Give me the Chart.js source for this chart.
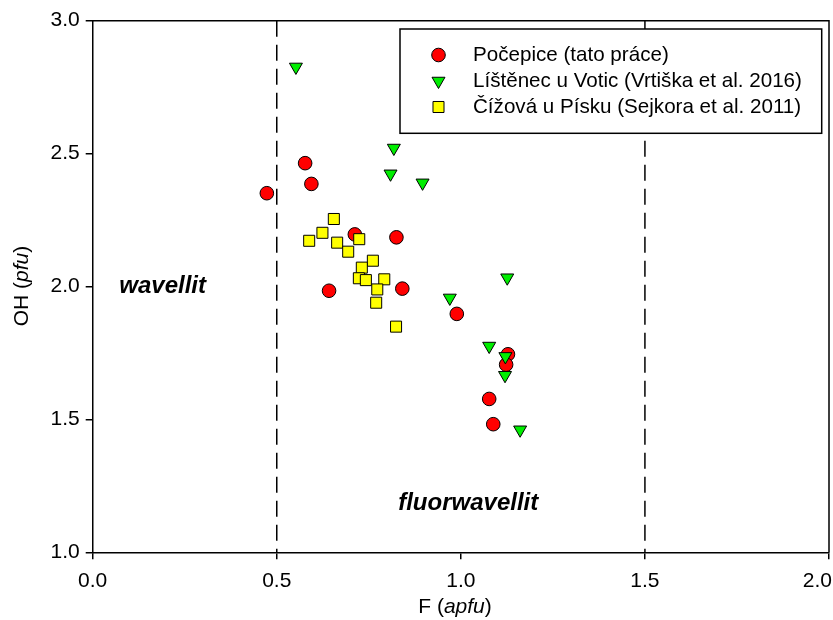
<!DOCTYPE html>
<html>
<head>
<meta charset="utf-8">
<script src="https://cdn.jsdelivr.net/npm/chart.js@4.4.0/dist/chart.umd.min.js"></script>
<style>
html, body { margin: 0; padding: 0; background: #fff; }
</style>
</head>
<body>
<canvas id="wavellitChart" width="833" height="620"></canvas>
<script>
// Počepice (tato práce)
const pocepiceF  = [0.473, 0.577, 0.594, 0.712, 0.825, 0.642, 0.841, 0.989, 1.128, 1.123, 1.077, 1.088];
const pocepiceOH = [2.351, 2.464, 2.386, 2.196, 2.185, 1.984, 1.992, 1.897, 1.745, 1.706, 1.577, 1.482];

// Líštěnec u Votic (Vrtiška et al. 2016)
const listenecF  = [0.552, 0.818, 0.809, 0.896, 1.126, 0.970, 1.077, 1.121, 1.120, 1.161];
const listenecOH = [2.826, 2.521, 2.424, 2.390, 2.033, 1.957, 1.776, 1.737, 1.666, 1.461];

// Čížová u Písku (Sejkora et al. 2011)
const cizovaF  = [0.655, 0.624, 0.588, 0.664, 0.724, 0.694, 0.761, 0.731, 0.723, 0.742, 0.792, 0.773, 0.770, 0.824];
const cizovaOH = [2.254, 2.202, 2.172, 2.165, 2.178, 2.131, 2.097, 2.071, 2.031, 2.024, 2.027, 1.989, 1.939, 1.849];

const seriesLabels = ['Počepice (tato práce)', 'Líštěnec u Votic (Vrtiška et al. 2016)', 'Čížová u Písku (Sejkora et al. 2011)'];
const boundaryF = [0.5, 1.5];
const xTicks = [0.0, 0.5, 1.0, 1.5, 2.0];
const yTicks = [1.0, 1.5, 2.0, 2.5, 3.0];

const FONT = '"Liberation Sans", Arial, sans-serif';
const TICK_SIZE = 21;
const X_LABEL_LINE = 2.06;   // pushes x labels down without adding side padding

function toPoints(xs, ys) {
    return xs.map((x, i) => ({ x: x, y: ys[i] }));
}

function drawMarker(ctx, style, x, y) {
    ctx.save();
    ctx.lineWidth = 1;
    ctx.strokeStyle = '#000';
    ctx.beginPath();
    if (style.shape === 'circle') {
        ctx.arc(x, y, style.radius, 0, Math.PI * 2);
    } else if (style.shape === 'triangleDown') {
        const r = style.radius;
        ctx.moveTo(x, y + r);
        ctx.lineTo(x - r * Math.sin(Math.PI / 3), y - r / 2);
        ctx.lineTo(x + r * Math.sin(Math.PI / 3), y - r / 2);
        ctx.closePath();
    } else {
        const s = style.radius * Math.SQRT1_2;
        ctx.rect(x - s, y - s, 2 * s, 2 * s);
    }
    ctx.fillStyle = style.color;
    ctx.fill();
    ctx.stroke();
    ctx.restore();
}

const markerStyles = [
    { shape: 'circle', radius: 6.8, color: '#ff0000' },
    { shape: 'triangleDown', radius: 7.5, color: '#00ee00' },
    { shape: 'rect', radius: 7.8, color: '#ffff00' }
];

// frame, axis titles, field labels and boxed legend
const decorPlugin = {
    id: 'decor',
    afterDraw(chart) {
        const ctx = chart.ctx;
        const area = chart.chartArea;
        const xs = chart.scales.x;
        const ys = chart.scales.y;

        ctx.save();
        ctx.strokeStyle = '#000';
        ctx.lineWidth = 1.5;
        ctx.beginPath();
        ctx.moveTo(area.left, area.top);
        ctx.lineTo(area.right, area.top);
        ctx.lineTo(area.right, area.bottom);
        ctx.stroke();

        // last x tick label sits inside the canvas edge
        ctx.fillStyle = '#000';
        ctx.font = TICK_SIZE + 'px ' + FONT;
        ctx.textAlign = 'right';
        ctx.textBaseline = 'middle';
        ctx.fillText(xTicks[xTicks.length - 1].toFixed(1), 832, xs.top + 7 + TICK_SIZE * X_LABEL_LINE / 2);

        // field names
        ctx.textAlign = 'center';
        ctx.font = 'italic bold 24px ' + FONT;
        ctx.fillText('wavellit', xs.getPixelForValue(0.19), ys.getPixelForValue(2.0));
        ctx.fillText('fluorwavellit', xs.getPixelForValue(1.02), ys.getPixelForValue(1.185));

        // axis titles with italic units
        function mixed(parts, cx, cy, rotate) {
            ctx.save();
            ctx.translate(cx, cy);
            if (rotate) ctx.rotate(-Math.PI / 2);
            let total = 0;
            parts.forEach(p => { ctx.font = p[1] + '21px ' + FONT; total += ctx.measureText(p[0]).width; });
            let pos = -total / 2;
            ctx.textAlign = 'left';
            parts.forEach(p => {
                ctx.font = p[1] + '21px ' + FONT;
                ctx.fillText(p[0], pos, 0);
                pos += ctx.measureText(p[0]).width;
            });
            ctx.restore();
        }
        mixed([['F (', ''], ['apfu', 'italic '], [')', '']], 455, 607, false);
        mixed([['OH (', ''], ['pfu', 'italic '], [')', '']], 22, 286, true);

        // legend box
        const box = { left: 400, top: 29, right: 821.7, bottom: 133.3 };
        ctx.fillStyle = '#fff';
        ctx.fillRect(box.left, box.top, box.right - box.left, box.bottom - box.top);
        ctx.strokeRect(box.left, box.top, box.right - box.left, box.bottom - box.top);
        ctx.font = '20.6px ' + FONT;
        ctx.textAlign = 'left';
        seriesLabels.forEach((label, i) => {
            const rowY = 55 + i * 26;
            drawMarker(ctx, markerStyles[i], 438.5, rowY);
            ctx.fillStyle = '#000';
            ctx.fillText(label, 473, rowY);
        });
        ctx.restore();
    }
};

new Chart(document.getElementById('wavellitChart'), {
    type: 'scatter',
    data: {
        datasets: [
            {
                label: seriesLabels[0],
                data: toPoints(pocepiceF, pocepiceOH),
                pointStyle: 'circle',
                pointRadius: markerStyles[0].radius,
                pointHoverRadius: markerStyles[0].radius,
                backgroundColor: markerStyles[0].color,
                borderColor: '#000',
                borderWidth: 1,
                order: 3
            },
            {
                label: seriesLabels[1],
                data: toPoints(listenecF, listenecOH),
                pointStyle: 'triangle',
                pointRotation: 180,
                pointRadius: markerStyles[1].radius,
                pointHoverRadius: markerStyles[1].radius,
                backgroundColor: markerStyles[1].color,
                borderColor: '#000',
                borderWidth: 1,
                order: 2
            },
            {
                label: seriesLabels[2],
                data: toPoints(cizovaF, cizovaOH),
                pointStyle: 'rect',
                pointRadius: markerStyles[2].radius,
                pointHoverRadius: markerStyles[2].radius,
                backgroundColor: markerStyles[2].color,
                borderColor: '#000',
                borderWidth: 1,
                order: 1
            },
            ...boundaryF.map(f => ({
                label: 'boundary',
                data: [{ x: f, y: 3 }, { x: f, y: 1 }],
                showLine: true,
                pointRadius: 0,
                borderColor: '#000',
                borderWidth: 1.5,
                borderDash: [16, 8],
                order: 4
            }))
        ]
    },
    options: {
        responsive: false,
        animation: false,
        layout: { autoPadding: false, padding: { top: 20.7, right: 4, left: 0, bottom: 0 } },
        plugins: {
            legend: { display: false },
            tooltip: { enabled: false }
        },
        scales: {
            x: {
                type: 'linear',
                min: 0,
                max: 2,
                afterBuildTicks: s => { s.ticks = xTicks.map(v => ({ value: v })); },
                afterFit: s => {
                    s.height = 67.7;
                    s.paddingLeft = 0;
                    s.paddingRight = 0;
                },
                ticks: {
                    color: '#000',
                    font: { family: FONT, size: TICK_SIZE, lineHeight: X_LABEL_LINE },
                    padding: 0,
                    maxRotation: 0,
                    callback: v => (v === xTicks[xTicks.length - 1] ? '' : v.toFixed(1))
                },
                grid: { drawOnChartArea: false, tickLength: 7, color: '#000', lineWidth: 1.5 },
                border: { color: '#000', width: 1.5 }
            },
            y: {
                type: 'linear',
                min: 1,
                max: 3,
                afterBuildTicks: s => { s.ticks = yTicks.map(v => ({ value: v })); },
                afterFit: s => {
                    s.width = 92.7;
                    s.paddingTop = 0;
                    s.paddingBottom = 0;
                },
                ticks: {
                    color: '#000',
                    font: { family: FONT, size: TICK_SIZE },
                    padding: 6,
                    callback: v => v.toFixed(1)
                },
                grid: { drawOnChartArea: false, tickLength: 7, color: '#000', lineWidth: 1.5 },
                border: { color: '#000', width: 1.5 }
            }
        }
    },
    plugins: [decorPlugin]
});
</script>
</body>
</html>
